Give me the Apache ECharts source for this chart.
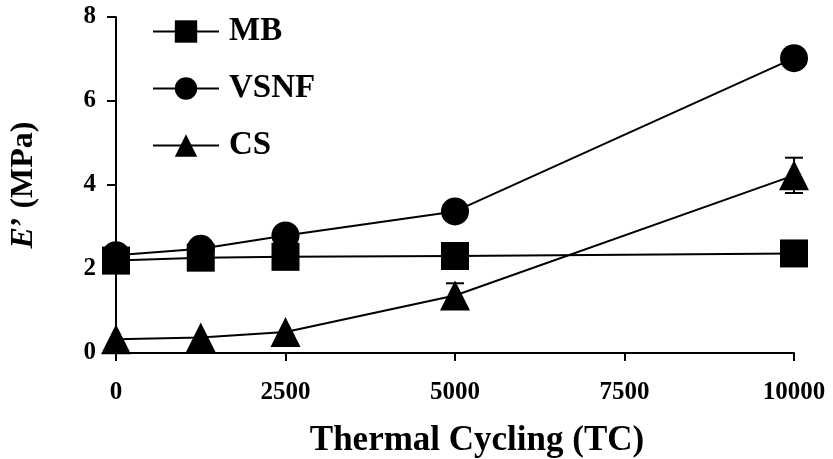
<!DOCTYPE html>
<html>
<head>
<meta charset="utf-8">
<script src="https://cdn.jsdelivr.net/npm/echarts@6/dist/echarts.min.js"></script>
<style>
html,body{margin:0;padding:0;background:#fff;}
#chart{width:833px;height:459px;}
</style>
</head>
<body>
<div id="chart"></div>
<script>
// Data
var cycles = [0, 1250, 2500, 5000, 10000];
var mbValues = [2.2, 2.27, 2.29, 2.31, 2.37];
var vsnfValues = [2.33, 2.48, 2.8, 3.37, 7.02];
var csValues = [0.33, 0.37, 0.5, 1.37, 4.23];
var csErrors = [0, 0, 0, 0.29, 0.42];
var seriesNames = ['MB', 'VSNF', 'CS'];
var xTicks = [0, 2500, 5000, 7500, 10000];
var yTicks = [0, 2, 4, 6, 8];

var FONT = '"Liberation Serif", "Times New Roman", serif';

function pairs(vals) {
  return cycles.map(function (c, i) { return [c, vals[i]]; });
}
var errData = [];
cycles.forEach(function (c, i) {
  if (csErrors[i] > 0) errData.push([c, csValues[i] - csErrors[i], csValues[i] + csErrors[i]]);
});

var chart = echarts.init(document.getElementById('chart'), null, {renderer: 'canvas'});
var lineStyle = {color: '#000', width: 2};
chart.setOption({
  animation: false,
  backgroundColor: '#fff',
  grid: {left: 116, right: 39, top: 17, bottom: 106, containLabel: false, outerBoundsMode: 'none'},
  legend: {
    orient: 'vertical',
    left: 152,
    top: 15,
    padding: 0,
    itemWidth: 66,
    itemHeight: 28,
    itemGap: 24,
    textStyle: {fontFamily: FONT, fontWeight: 'bold', fontSize: 33, color: '#000', padding: [0, 0, 0, 5]},
    data: seriesNames
  },
  xAxis: {
    type: 'value',
    min: 0, max: 10000, interval: 2500,
    name: 'Thermal Cycling (TC)',
    nameLocation: 'middle',
    nameGap: 70,
    nameTextStyle: {fontFamily: FONT, fontWeight: 'bold', fontSize: 35, color: '#000', padding: [0, 0, 0, 44]},
    axisLine: {lineStyle: {color: '#000', width: 2}},
    axisTick: {show: true, length: 8, lineStyle: {color: '#000', width: 2}},
    axisLabel: {fontFamily: FONT, fontWeight: 'bold', fontSize: 25, color: '#000', margin: 27,
      formatter: function (v) { return xTicks.indexOf(v) >= 0 ? String(v) : ''; }},
    splitLine: {show: false}
  },
  yAxis: {
    type: 'value',
    min: 0, max: 8, interval: 2,
    name: "{it|E}\u2019 (MPa)",
    nameLocation: 'middle',
    nameGap: 76,
    nameRotate: 90,
    nameTextStyle: {fontFamily: FONT, fontWeight: 'bold', fontSize: 32, color: '#000',
      rich: {it: {fontFamily: FONT, fontWeight: 'bold', fontStyle: 'italic', fontSize: 32, color: '#000'}}},
    axisLine: {show: true, lineStyle: {color: '#000', width: 2}},
    axisTick: {show: true, length: 9, lineStyle: {color: '#000', width: 2}},
    axisLabel: {fontFamily: FONT, fontWeight: 'bold', fontSize: 25, color: '#000', margin: 20,
      formatter: function (v) { return yTicks.indexOf(v) >= 0 ? String(v) : ''; }},
    splitLine: {show: false}
  },
  series: [
    {
      name: 'CSerr', type: 'custom', z: 1, silent: true,
      data: errData,
      renderItem: function (params, api) {
        var x = api.value(0);
        var lo = api.coord([x, api.value(1)]);
        var hi = api.coord([x, api.value(2)]);
        var w = 9;
        return {type: 'group', children: [
          {type: 'line', shape: {x1: hi[0], y1: lo[1], x2: hi[0], y2: hi[1]}, style: {stroke: '#000', lineWidth: 2}},
          {type: 'line', shape: {x1: hi[0] - w, y1: hi[1], x2: hi[0] + w, y2: hi[1]}, style: {stroke: '#000', lineWidth: 2}},
          {type: 'line', shape: {x1: lo[0] - w, y1: lo[1], x2: lo[0] + w, y2: lo[1]}, style: {stroke: '#000', lineWidth: 2}}
        ]};
      }
    },
    {
      name: 'MB', type: 'line', data: pairs(mbValues), z: 3,
      symbol: 'rect', symbolSize: 28,
      lineStyle: lineStyle, itemStyle: {color: '#000'}
    },
    {
      name: 'VSNF', type: 'line', data: pairs(vsnfValues), z: 2,
      symbol: 'circle', symbolSize: 28,
      lineStyle: lineStyle, itemStyle: {color: '#000'}
    },
    {
      name: 'CS', type: 'line', data: pairs(csValues), z: 4,
      symbol: 'triangle', symbolSize: [30, 30],
      lineStyle: lineStyle, itemStyle: {color: '#000'}
    }
  ]
});
</script>
</body>
</html>
